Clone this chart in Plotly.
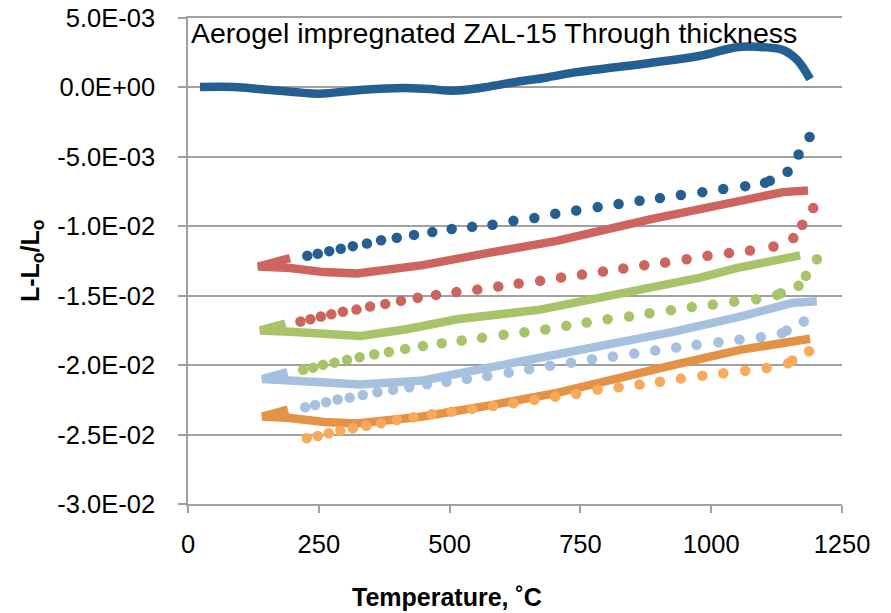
import plotly.graph_objects as go

# ---------------- data ----------------
# solid curves (heating runs)
blue_solid_T = [23, 87, 150, 208, 252, 335, 411, 462, 507, 558, 621, 686, 743, 883, 979, 1049, 1100, 1137, 1164, 1189]
blue_solid_y = [0.00003, 0.00003, -0.00017, -0.00035, -0.00045, -0.00017, -0.00004, -0.00012, -0.00024, -0.00004,
                0.00036, 0.00072, 0.0011, 0.00176, 0.00228, 0.0029, 0.0029, 0.0027, 0.0020, 0.0006]

red_solid_T = [195, 134, 195, 260, 323, 449, 577, 705, 883, 1011, 1137, 1185]
red_solid_y = [-0.0123, -0.0129, -0.0130, -0.0133, -0.0134, -0.0128, -0.0119, -0.01105, -0.0095, -0.00845, -0.00754, -0.00742]

green_solid_T = [186, 138, 195, 260, 330, 420, 514, 673, 800, 927, 979, 1050, 1170]
green_solid_y = [-0.0170, -0.0175, -0.0176, -0.0178, -0.0179, -0.0174, -0.0167, -0.0160, -0.0151, -0.0141, -0.0137, -0.0130, -0.0121]

lblue_solid_T = [190, 142, 195, 260, 330, 449, 577, 705, 927, 1055, 1157, 1202]
lblue_solid_y = [-0.0205, -0.0210, -0.0211, -0.0213, -0.0214, -0.0211, -0.0202, -0.0193, -0.0176, -0.0165, -0.0155, -0.0154]

orange_solid_T = [191, 142, 195, 260, 323, 449, 577, 705, 927, 1055, 1189]
orange_solid_y = [-0.0232, -0.0237, -0.0238, -0.0241, -0.0242, -0.0237, -0.0229, -0.0220, -0.0200, -0.0189, -0.0181]

# dotted curves (cooling runs)
blue_dot_T = [228, 248, 270, 292, 315, 342, 369, 399, 432, 467, 504, 543, 582, 622, 662, 702, 742, 783, 823, 863,
              902, 942, 983, 1023, 1065, 1103, 1112, 1146, 1167, 1188]
blue_dot_y = [-0.01213, -0.01198, -0.01179, -0.01162, -0.01143, -0.01124, -0.01100, -0.01083, -0.01062, -0.01042,
              -0.01020, -0.01004, -0.00989, -0.00961, -0.00940, -0.00910, -0.00886, -0.00862, -0.00840, -0.00816,
              -0.00797, -0.00775, -0.00754, -0.00732, -0.00711, -0.00687, -0.00672, -0.00607, -0.00483, -0.00357]

red_dot_T = [215, 234, 254, 274, 296, 322, 348, 377, 407, 439, 474, 513, 553, 593, 632, 673, 713, 753, 793, 832,
             872, 912, 953, 993, 1034, 1074, 1119, 1157, 1174, 1195]
red_dot_y = [-0.01686, -0.01669, -0.01650, -0.01633, -0.01616, -0.01600, -0.01578, -0.01559, -0.01537, -0.01515,
             -0.01494, -0.01474, -0.01456, -0.01434, -0.01412, -0.01393, -0.01369, -0.01348, -0.01326, -0.01304,
             -0.01280, -0.01261, -0.01237, -0.01213, -0.01193, -0.01175, -0.01146, -0.01085, -0.00989, -0.00869]

green_dot_T = [220, 239, 258, 280, 304, 328, 356, 384, 415, 449, 485, 523, 562, 603, 643, 683, 723, 762, 802, 843,
               882, 923, 963, 1003, 1044, 1086, 1126, 1133, 1167, 1181, 1202]
green_dot_y = [-0.02034, -0.02018, -0.01998, -0.01982, -0.01962, -0.01943, -0.01921, -0.01905, -0.01883, -0.01862,
               -0.01842, -0.01823, -0.01802, -0.01782, -0.01763, -0.01743, -0.01717, -0.01693, -0.01669, -0.01650,
               -0.01626, -0.01604, -0.01582, -0.01564, -0.01542, -0.01525, -0.01494, -0.01482, -0.01429, -0.01357, -0.01237]

lblue_dot_T = [224, 243, 264, 286, 309, 334, 362, 392, 423, 457, 494, 533, 572, 613, 652, 692, 732, 772, 812, 853,
               893, 933, 972, 1014, 1054, 1095, 1135, 1144, 1177]
lblue_dot_y = [-0.02303, -0.02287, -0.02267, -0.02248, -0.02234, -0.02215, -0.02195, -0.02178, -0.02159, -0.02137,
               -0.02119, -0.02099, -0.02078, -0.02054, -0.02029, -0.02005, -0.01982, -0.01957, -0.01938, -0.01917,
               -0.01895, -0.01873, -0.01854, -0.01835, -0.01816, -0.01799, -0.01770, -0.01751, -0.01686]

orange_dot_T = [227, 248, 269, 291, 315, 341, 369, 399, 431, 466, 504, 543, 583, 622, 662, 702, 742, 783, 823, 863,
                902, 942, 983, 1023, 1065, 1106, 1147, 1155, 1187]
orange_dot_y = [-0.02527, -0.02510, -0.02490, -0.02472, -0.02454, -0.02436, -0.02418, -0.02395, -0.02375, -0.02354,
                -0.02335, -0.02315, -0.02294, -0.02274, -0.02250, -0.02227, -0.02207, -0.02175, -0.02160, -0.02140,
                -0.02119, -0.02097, -0.02076, -0.02058, -0.02040, -0.02020, -0.01987, -0.01967, -0.01900]

y_tick_vals = [0.005, 0.0, -0.005, -0.01, -0.015, -0.02, -0.025, -0.03]
y_tick_labels = ["5.0E-03", "0.0E+00", "-5.0E-03", "-1.0E-02", "-1.5E-02", "-2.0E-02", "-2.5E-02", "-3.0E-02"]
x_tick_vals = [0, 250, 500, 750, 1000, 1250]

chart_title = "Aerogel impregnated ZAL-15 Through thickness"
x_title = "Temperature, ˚C"
y_title = "L-L<sub>o</sub>/L<sub>o</sub>"

# ---------------- styling ----------------
C_BLUE = "#255E91"
C_RED = "#CD645E"
C_GREEN = "#A8C468"
C_LBLUE = "#A6C1E0"
C_ORANGE = "#E39246"
C_ORANGE_DOT = "#F9A959"
GRID = "#A0A0A0"
FONT = "Liberation Sans, Arial, sans-serif"

fig = go.Figure()

def solid(x, y, color, shape="linear"):
    fig.add_trace(go.Scatter(x=x, y=y, mode="lines",
                             line=dict(color=color, width=8.5, shape=shape),
                             showlegend=False, hoverinfo="skip"))

def dots(x, y, color):
    fig.add_trace(go.Scatter(x=x, y=y, mode="markers",
                             marker=dict(color=color, size=10.5, line=dict(width=0)),
                             showlegend=False, hoverinfo="skip"))

solid(blue_solid_T, blue_solid_y, C_BLUE, shape="spline")
dots(blue_dot_T, blue_dot_y, C_BLUE)
solid(red_solid_T, red_solid_y, C_RED)
dots(red_dot_T, red_dot_y, C_RED)
solid(green_solid_T, green_solid_y, C_GREEN)
dots(green_dot_T, green_dot_y, C_GREEN)
solid(lblue_solid_T, lblue_solid_y, C_LBLUE)
dots(lblue_dot_T, lblue_dot_y, C_LBLUE)
solid(orange_solid_T, orange_solid_y, C_ORANGE)
dots(orange_dot_T, orange_dot_y, C_ORANGE_DOT)

# page has an 8px body margin: figure pixel = page pixel - 8
OFF = 8
W, H = 891 - OFF, 613 - OFF
ML, MT = 188 - OFF, 18 - OFF
MR = W - (842 - OFF)
MB = H - (504 - OFF)
pw, ph = W - ML - MR, H - MT - MB

def px_x(p):
    return (p - OFF - ML) / pw

def px_y(p):
    return (H - MB - (p - OFF)) / ph

fig.update_layout(
    template="none",
    width=W, height=H,
    margin=dict(l=ML, r=MR, t=MT, b=MB, pad=0, autoexpand=False),
    paper_bgcolor="white", plot_bgcolor="white",
    font=dict(family=FONT, size=25, color="black"),
    showlegend=False,
    xaxis=dict(range=[0, 1250], tickvals=x_tick_vals, showgrid=False, zeroline=False,
               showline=True, mirror=True, linecolor=GRID, linewidth=1.5, automargin=False,
               ticks="outside", ticklen=7, tickwidth=1.5, tickcolor=GRID,
               tickfont=dict(size=25.5), ticklabelstandoff=10),
    yaxis=dict(range=[-0.03, 0.005], tickvals=y_tick_vals, ticktext=y_tick_labels,
               showgrid=True, gridcolor=GRID, gridwidth=1.5, zeroline=False,
               showline=True, linecolor=GRID, linewidth=1.5, automargin=False,
               ticks="outside", ticklen=8, tickwidth=1.5, tickcolor=GRID,
               tickfont=dict(size=25.5), ticklabelstandoff=18, ticklabeloverflow="allow"),
    annotations=[
        dict(text=chart_title, xref="paper", yref="paper",
             x=px_x(189), y=px_y(33), xanchor="left", yanchor="middle",
             showarrow=False, font=dict(size=28.5, color="black")),
        dict(text="<b>" + x_title + "</b>", xref="paper", yref="paper",
             x=px_x(447), y=px_y(597), xanchor="center", yanchor="middle",
             showarrow=False, font=dict(size=25, color="black")),
        dict(text="<b>" + y_title + "</b>", xref="paper", yref="paper",
             x=px_x(32), y=px_y(261), xanchor="center", yanchor="middle",
             textangle=-90, showarrow=False, font=dict(size=25, color="black")),
    ],
)

fig.write_html("out.html")
